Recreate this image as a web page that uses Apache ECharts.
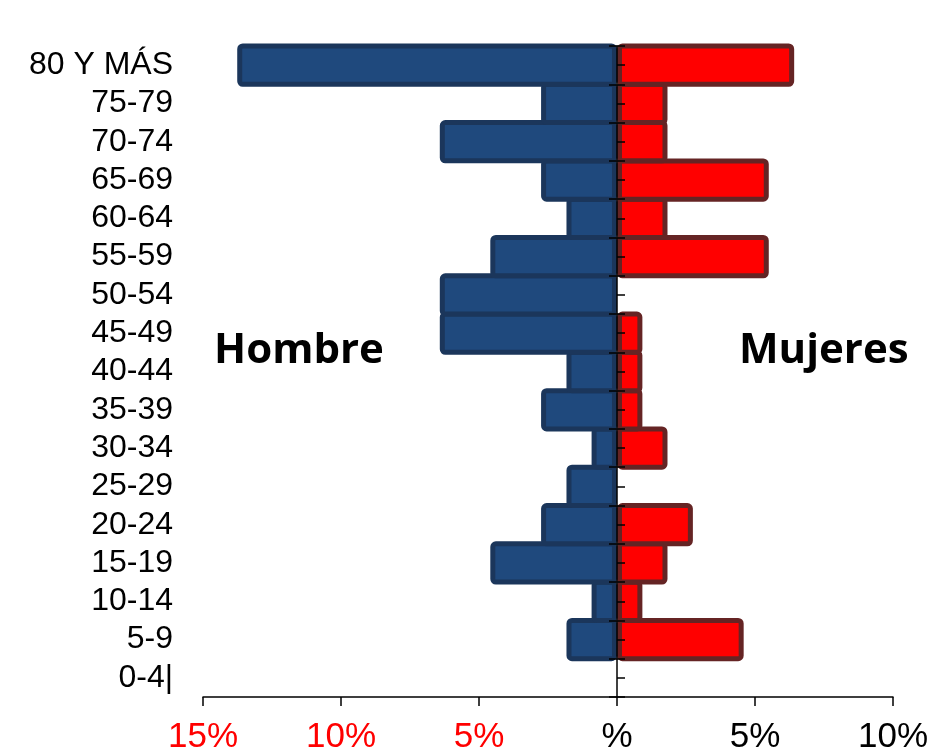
<!DOCTYPE html>
<html>
<head>
<meta charset="utf-8">
<script src="https://cdn.jsdelivr.net/npm/echarts@6/dist/echarts.min.js"></script>
<style>html,body{margin:0;padding:0;background:#fff;}#c{width:931px;height:755px;}</style>
</head>
<body>
<div id="c"></div>
<script>
var categories = ['0-4|','5-9','10-14','15-19','20-24','25-29','30-34','35-39','40-44','45-49','50-54','55-59','60-64','65-69','70-74','75-79','80 Y MÁS'];
var hombre = [0, 1.83, 0.92, 4.59, 2.75, 1.83, 0.92, 2.75, 1.83, 6.42, 6.42, 4.59, 1.83, 2.75, 6.42, 2.75, 13.76];
var mujeres = [0, 4.59, 0.92, 1.83, 2.75, 0, 1.83, 0.92, 0.92, 0.92, 0, 5.50, 1.83, 5.50, 1.83, 1.83, 6.42];
var xTicks = [-15, -10, -5, 0, 5, 10];

var chart = echarts.init(document.getElementById('c'));
var blank = function (v) { return v === 0 ? '-' : v; };
var axisFont = 'Liberation Sans, Arial, sans-serif';
chart.setOption({
  animation: false,
  grid: { left: 203, right: 37, top: 46, bottom: 55, containLabel: false },
  xAxis: {
    type: 'value', min: xTicks[0], max: xTicks[xTicks.length - 1], interval: 5,
    splitLine: { show: false },
    axisLine: { show: true, lineStyle: { color: '#000', width: 1.5 } },
    axisTick: { show: true, length: 9, lineStyle: { color: '#000', width: 1.5 } },
    axisLabel: {
      margin: 23,
      formatter: function (v) {
        if (v === 0) return '{k|%}';
        return v < 0 ? '{r|' + Math.abs(v) + '%}' : '{k|' + v + '%}';
      },
      rich: {
        r: { color: '#ff0000', fontSize: 35, fontFamily: axisFont },
        k: { color: '#000', fontSize: 35, fontFamily: axisFont }
      }
    }
  },
  yAxis: [
    {
      type: 'category', data: categories, position: 'left',
      axisLine: { show: false }, axisTick: { show: false },
      axisLabel: { interval: 0, margin: 30, color: '#000', fontSize: 32, fontFamily: axisFont }
    },
    {
      type: 'category', data: categories, position: 'left', offset: -414, z: 5,
      axisLine: { show: true, onZero: false, lineStyle: { color: '#000', width: 1.5 } },
      axisTick: { show: true, interval: 0, length: 8, lineStyle: { color: '#000', width: 1.5 } },
      axisLabel: { show: false }
    },
    {
      type: 'category', data: categories, position: 'left', offset: -414, z: 5,
      axisLine: { show: false },
      axisTick: { show: true, interval: 0, inside: true, length: 8, lineStyle: { color: '#000', width: 1.5 } },
      axisLabel: { show: false }
    },
    {
      type: 'category', data: categories, position: 'left', offset: -414, z: 5,
      axisLine: { show: false },
      axisTick: { show: true, interval: 0, inside: true, alignWithLabel: true, length: 8, lineStyle: { color: '#000', width: 1.5 } },
      axisLabel: { show: false }
    }
  ],
  series: [
    {
      name: 'Hombre', type: 'bar', yAxisIndex: 0, barWidth: '113%', barGap: '-100%',
      data: hombre.map(function (v) { return v === 0 ? '-' : -v; }),
      itemStyle: { color: '#1f497d', borderColor: '#1b365b', borderWidth: 5, borderRadius: 3 }
    },
    {
      name: 'Mujeres', type: 'bar', yAxisIndex: 0, barWidth: '113%', barGap: '-100%',
      data: mujeres.map(blank),
      itemStyle: { color: '#ff0000', borderColor: '#652424', borderWidth: 5, borderRadius: 3 }
    }
  ],
  graphic: [
    { type: 'text', left: 214, top: 330, style: { text: 'Hombre', fontFamily: 'Open Sans', fontWeight: 'bold', fontSize: 42, fill: '#000' } },
    { type: 'text', left: 739, top: 330, style: { text: 'Mujeres', fontFamily: 'Open Sans', fontWeight: 'bold', fontSize: 42, fill: '#000' } }
  ]
});
</script>
</body>
</html>
